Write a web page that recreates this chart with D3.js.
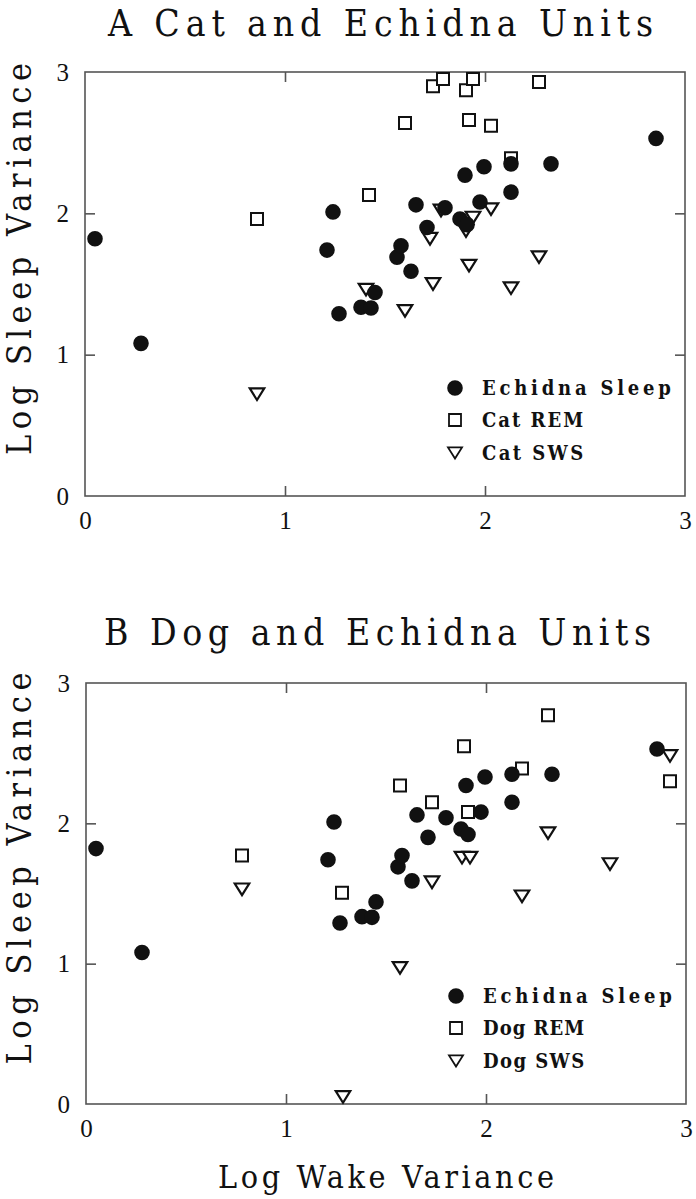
<!DOCTYPE html>
<html>
<head>
<meta charset="utf-8">
<script src="https://cdn.jsdelivr.net/npm/d3@7"></script>
<style>
  html, body { margin: 0; padding: 0; background: #fff; }
  svg { display: block; }
</style>
</head>
<body>
<svg id="chart" width="696" height="1199"></svg>
<script>
// ---------------- DATA ----------------
const xTickValues = [0, 1, 2, 3];
const yTickValues = [0, 1, 2, 3];
const innerTicks = [1, 2];

const titles = ["A Cat and Echidna Units", "B Dog and Echidna Units"];
const xAxisTitle = "Log Wake Variance";
const yAxisTitle = "Log Sleep Variance";

// Echidna sleep units (same in both panels)
const echidnaX = [0.05, 0.28, 1.24, 1.21, 1.27, 1.38, 1.43, 1.45, 1.56, 1.58, 1.63, 1.655, 1.71, 1.80, 1.875, 1.91, 1.90, 1.975, 1.995, 2.13, 2.13, 2.33, 2.855];
const echidnaY = [1.82, 1.08, 2.01, 1.74, 1.29, 1.335, 1.33, 1.44, 1.69, 1.77, 1.59, 2.06, 1.90, 2.04, 1.96, 1.92, 2.27, 2.08, 2.33, 2.15, 2.35, 2.35, 2.53];

// Cat
const catRemX = [0.86, 1.42, 1.60, 1.74, 1.79, 1.905, 1.94, 1.92, 2.03, 2.13, 2.27];
const catRemY = [1.96, 2.13, 2.64, 2.90, 2.95, 2.87, 2.95, 2.66, 2.62, 2.39, 2.93];
const catSwsX = [0.86, 1.405, 1.60, 1.74, 1.725, 1.78, 1.905, 1.94, 1.92, 2.03, 2.13, 2.27];
const catSwsY = [0.72, 1.46, 1.31, 1.50, 1.82, 2.02, 1.875, 1.97, 1.63, 2.03, 1.47, 1.69];

// Dog
const dogRemX = [0.78, 1.28, 1.57, 1.73, 1.89, 1.91, 2.18, 2.31, 2.92];
const dogRemY = [1.77, 1.505, 2.27, 2.15, 2.55, 2.08, 2.39, 2.77, 2.30];
const dogSwsX = [0.78, 1.285, 1.57, 1.73, 1.88, 1.92, 2.18, 2.31, 2.62, 2.92];
const dogSwsY = [1.53, 0.05, 0.97, 1.58, 1.755, 1.755, 1.48, 1.93, 1.71, 2.48];

const legendA = ["Echidna Sleep", "Cat REM", "Cat SWS"];
const legendB = ["Echidna Sleep", "Dog REM", "Dog SWS"];

// ---------------- RENDER ----------------
const svg = d3.select("#chart");
const TYPE = "'DejaVu Serif Condensed', 'DejaVu Serif', serif";
const NUM = "'Liberation Serif', 'Times New Roman', serif";
const INK = "#111";

const zip = (xs, ys) => xs.map((v, i) => ({x: v, y: ys[i]}));

// custom downward triangle centred on its bounding box
const triDown = {
  draw(ctx, size) {
    const w = Math.sqrt(size);
    const h = w * 0.8;
    ctx.moveTo(-w / 2, -h / 2);
    ctx.lineTo(w / 2, -h / 2);
    ctx.lineTo(0, h / 2);
    ctx.closePath();
  }
};

const circleSym = d3.symbol().type(d3.symbolCircle).size(Math.PI * 7.8 * 7.8);
const squareSym = d3.symbol().type(d3.symbolSquare).size(12 * 12);
const triSym = d3.symbol().type(triDown).size(14.5 * 14.5);

const legCircle = d3.symbol().type(d3.symbolCircle).size(Math.PI * 7.8 * 7.8);
const legSquare = d3.symbol().type(d3.symbolSquare).size(12 * 12);
const legTri = d3.symbol().type(triDown).size(14 * 14);

const panels = [
  { title: titles[0], titleX: 108, titleY: 36, titleLen: 545,
    xr: [85, 685], yr: [496, 72],
    rem: zip(catRemX, catRemY), sws: zip(catSwsX, catSwsY), legend: legendA,
    showXTitle: false },
  { title: titles[1], titleX: 104, titleY: 645, titleLen: 547,
    xr: [86, 686], yr: [1104, 683],
    rem: zip(dogRemX, dogRemY), sws: zip(dogSwsX, dogSwsY), legend: legendB,
    showXTitle: true }
];

const echidna = zip(echidnaX, echidnaY);

panels.forEach(p => {
  const x = d3.scaleLinear().domain([0, 3]).range(p.xr);
  const y = d3.scaleLinear().domain([0, 3]).range(p.yr);
  const g = svg.append("g");

  // title
  g.append("text")
    .attr("x", p.titleX).attr("y", p.titleY)
    .attr("font-family", TYPE).attr("font-size", 37)
    .attr("textLength", p.titleLen).attr("lengthAdjust", "spacing")
    .attr("fill", INK)
    .text(p.title);

  // frame
  g.append("rect")
    .attr("x", x(0)).attr("y", y(3))
    .attr("width", x(3) - x(0)).attr("height", y(0) - y(3))
    .attr("fill", "none").attr("stroke", "#555").attr("stroke-width", 1.6);

  // inner ticks on all four sides
  const tickStyle = sel => {
    sel.select(".domain").remove();
    sel.selectAll(".tick line").attr("stroke", "#555").attr("stroke-width", 1.6);
    sel.selectAll(".tick text").remove();
  };
  g.append("g").attr("transform", `translate(0,${y(0)})`)
    .call(d3.axisBottom(x).tickValues(innerTicks).tickSize(-10)).call(tickStyle);
  g.append("g").attr("transform", `translate(0,${y(3)})`)
    .call(d3.axisTop(x).tickValues(innerTicks).tickSize(-10)).call(tickStyle);
  g.append("g").attr("transform", `translate(${x(0)},0)`)
    .call(d3.axisLeft(y).tickValues(innerTicks).tickSize(-10)).call(tickStyle);
  g.append("g").attr("transform", `translate(${x(3)},0)`)
    .call(d3.axisRight(y).tickValues(innerTicks).tickSize(-10)).call(tickStyle);

  // tick labels
  const labStyle = sel => {
    sel.select(".domain").remove();
    sel.selectAll(".tick line").remove();
    sel.selectAll(".tick text").attr("font-family", NUM).attr("font-size", 25).attr("fill", INK);
  };
  g.append("g").attr("transform", `translate(0,${y(0)})`)
    .call(d3.axisBottom(x).tickValues(xTickValues).tickFormat(d3.format("d")).tickSize(0).tickPadding(15))
    .call(labStyle);
  g.append("g").attr("transform", `translate(${x(0)},0)`)
    .call(d3.axisLeft(y).tickValues(yTickValues).tickFormat(d3.format("d")).tickSize(0).tickPadding(16))
    .call(labStyle);

  // y-axis title
  const yc = (y(0) + y(3)) / 2 - 25;
  g.append("text")
    .attr("transform", `translate(31,${yc}) rotate(-90)`)
    .attr("text-anchor", "middle")
    .attr("font-family", TYPE).attr("font-size", 34)
    .attr("textLength", 392).attr("lengthAdjust", "spacing")
    .attr("fill", INK)
    .text(yAxisTitle);

  if (p.showXTitle) {
    g.append("text")
      .attr("x", (x(0) + x(3)) / 2).attr("y", y(0) + 84)
      .attr("text-anchor", "middle")
      .attr("font-family", TYPE).attr("font-size", 32)
      .attr("textLength", 336).attr("lengthAdjust", "spacing")
      .attr("fill", INK)
      .text(xAxisTitle);
  }

  // markers: open symbols first, filled circles on top
  g.append("g").selectAll("path").data(p.rem).join("path")
    .attr("d", squareSym)
    .attr("transform", d => `translate(${x(d.x)},${y(d.y)})`)
    .attr("fill", "#fff").attr("stroke", INK).attr("stroke-width", 2);
  g.append("g").selectAll("path").data(p.sws).join("path")
    .attr("d", triSym)
    .attr("transform", d => `translate(${x(d.x)},${y(d.y)})`)
    .attr("fill", "#fff").attr("stroke", INK).attr("stroke-width", 2.2);
  g.append("g").selectAll("path").data(echidna).join("path")
    .attr("d", circleSym)
    .attr("transform", d => `translate(${x(d.x)},${y(d.y)})`)
    .attr("fill", INK);

  // legend
  const lx = x(3) - 230, tx = x(3) - 203;
  const rows = [y(0) - 108, y(0) - 76, y(0) - 43];
  const syms = [legCircle, legSquare, legTri];
  p.legend.forEach((lab, i) => {
    const filled = i === 0;
    g.append("path")
      .attr("d", syms[i])
      .attr("transform", `translate(${lx},${rows[i]})`)
      .attr("fill", filled ? INK : "#fff")
      .attr("stroke", filled ? "none" : INK)
      .attr("stroke-width", 1.8);
    g.append("text")
      .attr("x", tx).attr("y", rows[i] + 7)
      .attr("font-family", TYPE).attr("font-size", 20).attr("font-weight", "bold")
      .attr("textLength", lab.length * 14.6 - 1).attr("lengthAdjust", "spacing")
      .attr("fill", INK)
      .text(lab);
  });
});
</script>
</body>
</html>
